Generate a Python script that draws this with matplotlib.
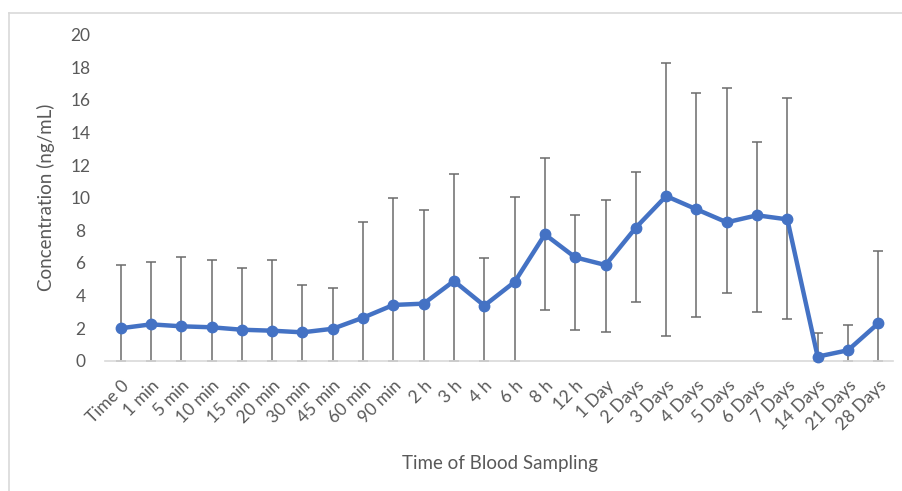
import numpy as np
import matplotlib
matplotlib.use("Agg")
import matplotlib.pyplot as plt
from matplotlib.lines import Line2D

# sampling times and mean concentration (ng/mL)
times = ["Time 0", "1 min", "5 min", "10 min", "15 min", "20 min", "30 min",
         "45 min", "60 min", "90 min", "2 h", "3 h", "4 h", "6 h", "8 h",
         "12 h", "1 Day", "2 Days", "3 Days", "4 Days", "5 Days", "6 Days",
         "7 Days", "14 Days", "21 Days", "28 Days"]
conc = [1.99, 2.23, 2.11, 2.05, 1.90, 1.84, 1.74,
        1.96, 2.64, 3.42, 3.50, 4.89, 3.38, 4.83, 7.75,
        6.34, 5.87, 8.16, 10.10, 9.29, 8.49, 8.92,
        8.67, 0.25, 0.64, 2.29]
# upper and lower ends of the error bars
err_hi = [5.87, 6.07, 6.38, 6.20, 5.67, 6.16, 4.62,
          4.44, 8.53, 10.00, 9.25, 11.45, 6.28, 10.04, 12.46,
          8.94, 9.84, 11.56, 18.28, 16.42, 16.75, 13.44,
          16.14, 1.72, 2.19, 6.75]
err_lo = [0, 0, 0, 0, 0, 0, 0,
          0, 0, 0, 0, 0, 0, 0, 3.11,
          1.88, 1.74, 3.62, 1.53, 2.70, 4.15, 3.00,
          2.56, 0, 0, 0]

plt.rcParams["font.family"] = ["Lato", "DejaVu Sans"]
grey = "#595959"

fig = plt.figure(figsize=(9.03, 4.91), dpi=100)
W, H = 903, 491
ax = fig.add_axes([105.5 / W, 1 - 360.7 / H, (893.4 - 105.5) / W, (360.7 - 34.7) / H])

x = np.arange(len(times))
y = np.array(conc)
yerr = [y - np.array(err_lo), np.array(err_hi) - y]

ax.errorbar(x, y, yerr=yerr, fmt="none", ecolor="#6b6b6b", elinewidth=1.1,
            capsize=3.3, capthick=1.1, zorder=2)
ax.plot(x, y, color="#4472C4", linewidth=3.2, marker="o", markersize=7.5,
        zorder=3, clip_on=False)

ax.set_xlim(-0.5, len(times) - 0.5)
ax.set_ylim(0, 20)
ax.set_yticks(range(0, 21, 2))
ax.set_xticks(x)
ax.set_xticklabels(times, rotation=45, ha="right", va="top",
                   rotation_mode="anchor")

for s in ["top", "right", "left"]:
    ax.spines[s].set_visible(False)
ax.spines["bottom"].set_color("#D9D9D9")
ax.spines["bottom"].set_linewidth(1.2)
ax.tick_params(axis="both", length=0, colors=grey, labelsize=12.5)
ax.tick_params(axis="y", pad=18)
ax.tick_params(axis="x", pad=12)
for lbl in ax.get_yticklabels():
    lbl.set_horizontalalignment("center")

ax.set_ylabel("Concentration (ng/mL)", color=grey, fontsize=13.5, labelpad=11)
ax.set_xlabel("Time of Blood Sampling", color=grey, fontsize=13.5, labelpad=16)

# chart frame edges
fig.add_artist(Line2D([9 / W, 9 / W], [0, 1 - 13 / H], color="#D9D9D9", lw=1.2))
fig.add_artist(Line2D([9 / W, 1], [1 - 13 / H, 1 - 13 / H], color="#D9D9D9", lw=1.2))

fig.savefig("out.png", dpi=100)
